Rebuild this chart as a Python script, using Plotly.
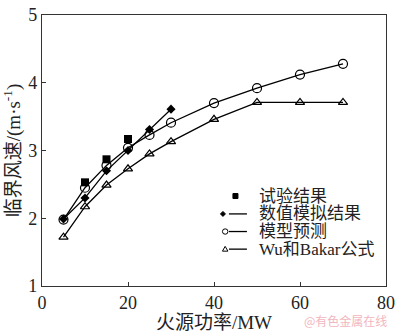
import plotly.graph_objects as go

# Fire heat release rate (MW)
hrr_exp = [10, 15, 20]
hrr_num = [5, 10, 15, 20, 25, 30]
hrr_model = [5, 10, 15, 20, 25, 30, 40, 50, 60, 70]
hrr_wu = [5, 10, 15, 20, 25, 30, 40, 50, 60, 70]

# Critical velocity (m/s)
v_exp = [2.53, 2.87, 3.17]
v_num = [1.99, 2.30, 2.70, 3.00, 3.31, 3.61]
v_model = [1.98, 2.45, 2.78, 3.04, 3.23, 3.41, 3.70, 3.92, 4.12, 4.28]
v_wu = [1.72, 2.17, 2.49, 2.73, 2.95, 3.13, 3.46, 3.71, 3.71, 3.71]

series_names = ["试验结果", "数值模拟结果", "模型预测", "Wu和Bakar公式"]

x_ticks = [0, 20, 40, 60, 80]
y_ticks = [1, 2, 3, 4, 5]

serif = "Times New Roman, Liberation Serif, Noto Sans CJK SC, serif"
INK = "black"

fig = go.Figure()
fig.add_trace(go.Scatter(
    x=hrr_exp, y=v_exp, mode="markers", name=series_names[0],
    marker=dict(symbol="square", size=8, color=INK),
))
fig.add_trace(go.Scatter(
    x=hrr_num, y=v_num, mode="lines+markers", name=series_names[1],
    line=dict(color=INK, width=1.3),
    marker=dict(symbol="diamond", size=7, color=INK),
))
fig.add_trace(go.Scatter(
    x=hrr_model, y=v_model, mode="lines+markers", name=series_names[2],
    line=dict(color=INK, width=1.3),
    marker=dict(symbol="circle-open", size=9, color=INK, line=dict(width=1.2)),
))
fig.add_trace(go.Scatter(
    x=hrr_wu, y=v_wu, mode="lines+markers", name=series_names[3],
    line=dict(color=INK, width=1.3),
    marker=dict(symbol="triangle-up-open", size=8, color=INK, line=dict(width=1.2)),
))

axis_common = dict(
    showgrid=False, zeroline=False, showline=True, linecolor="#333", linewidth=1.2,
    mirror=True, ticks="inside", ticklen=4, tickcolor="#333",
    ticklabeloverflow="allow",
    tickfont=dict(family=serif, size=18, color="#222"),
)

fig.update_layout(
    width=400, height=333,
    margin=dict(l=42, r=8, t=5, b=47),
    paper_bgcolor="white", plot_bgcolor="white",
    font=dict(family=serif, color="#222"),
    xaxis=dict(range=[0, 80], tickvals=x_ticks, **axis_common,
               title=dict(text="火源功率/MW", font=dict(family=serif, size=19), standoff=2)),
    yaxis=dict(range=[1, 5], tickvals=y_ticks, **axis_common,
               title=dict(text="临界风速/(m·s<sup>-1</sup>)", font=dict(family=serif, size=19), standoff=5)),
    showlegend=False,
)

# Compact key drawn in paper space: symbol + short line + label per row
# (pixel-sized shapes: offsets in px, y pointing up)
key_x = 0.526
key_rows = [0.332, 0.266, 0.201, 0.136]
glyphs = [
    dict(kind="rect", box=(10, 15, -2.5, 2.5), fill=True, line=False),
    dict(kind="path", path="M 0 -2.5 L 2.5 0 L 0 2.5 L -2.5 0 Z", fill=True, line=True),
    dict(kind="circle", box=(-0.5, 5, -2.7, 2.7), fill=False, line=True),
    dict(kind="path", path="M -0.5 -2 L 5 -2 L 2.2 2.8 Z", fill=False, line=True),
]
for name, yk, g in zip(series_names, key_rows, glyphs):
    shape = dict(
        type=g["kind"], xref="paper", yref="paper",
        xsizemode="pixel", ysizemode="pixel",
        xanchor=key_x, yanchor=yk,
        fillcolor=INK if g["fill"] else "white",
        line=dict(color=INK, width=1.0),
    )
    if g["kind"] == "path":
        shape["path"] = g["path"]
    else:
        x0, x1, y0, y1 = g["box"]
        shape.update(x0=x0, x1=x1, y0=y0, y1=y1)
    if g["line"]:
        fig.add_shape(
            type="line", xref="paper", yref="paper",
            xsizemode="pixel", ysizemode="pixel",
            xanchor=key_x, yanchor=yk,
            x0=6, x1=24, y0=0, y1=0,
            line=dict(color=INK, width=1.3),
        )
    fig.add_shape(**shape)
    fig.add_annotation(
        text=name, xref="paper", yref="paper", x=key_x, y=yk,
        xshift=34, xanchor="left", yanchor="middle", showarrow=False,
        font=dict(family=serif, size=17, color="#222"),
    )

fig.add_annotation(
    text="@有色金属在线", xref="paper", yref="paper", x=1.009, y=-0.128,
    xanchor="right", yanchor="middle", showarrow=False,
    font=dict(family="Noto Sans CJK SC", size=12, color="#f2b6be"),
)

fig.write_html("out.html")
